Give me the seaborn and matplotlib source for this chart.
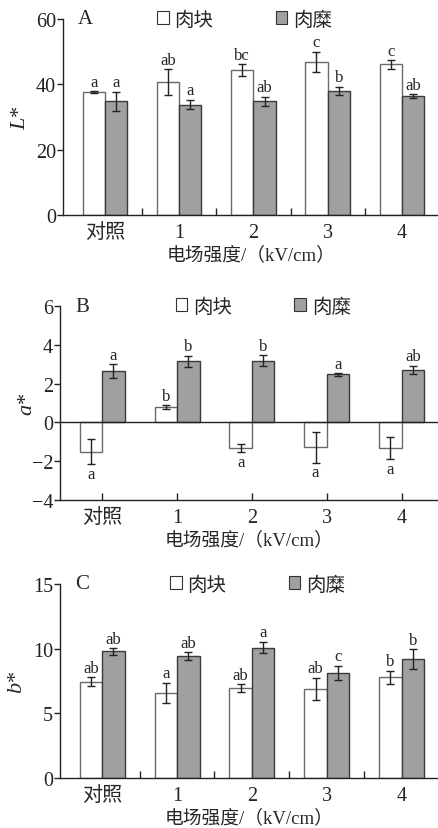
import numpy as np
import pandas as pd
import matplotlib
matplotlib.use('Agg')
import matplotlib.pyplot as plt
from matplotlib.patches import Patch
from matplotlib.ticker import FixedLocator
import seaborn as sns

# Data
groups = ['对照', '1', '2', '3', '4']
series = ['肉块', '肉糜']

L_chunk = [37.6, 40.6, 44.3, 46.9, 46.1]
L_chunk_err = [0.3, 4.0, 1.8, 3.0, 1.3]
L_mince = [34.8, 33.8, 34.8, 37.9, 36.3]
L_mince_err = [3.0, 1.5, 1.4, 1.3, 0.6]
L_chunk_sig = ['a', 'ab', 'bc', 'c', 'c']
L_mince_sig = ['a', 'a', 'ab', 'b', 'ab']

a_chunk = [-1.50, 0.79, -1.33, -1.28, -1.34]
a_chunk_err = [0.66, 0.09, 0.22, 0.80, 0.57]
a_mince = [2.64, 3.16, 3.19, 2.47, 2.72]
a_mince_err = [0.35, 0.28, 0.26, 0.07, 0.20]
a_chunk_sig = ['a', 'b', 'a', 'a', 'a']
a_mince_sig = ['a', 'b', 'b', 'a', 'ab']

b_chunk = [7.45, 6.60, 6.93, 6.88, 7.78]
b_chunk_err = [0.35, 0.77, 0.30, 0.85, 0.52]
b_mince = [9.79, 9.41, 10.08, 8.12, 9.20]
b_mince_err = [0.25, 0.32, 0.45, 0.57, 0.77]
b_chunk_sig = ['ab', 'a', 'ab', 'ab', 'b']
b_mince_sig = ['ab', 'ab', 'a', 'c', 'b']

sns.set_theme(style='ticks')
plt.rcParams['font.family'] = ['Liberation Serif', 'Noto Sans CJK SC']
plt.rcParams['mathtext.fontset'] = 'custom'
plt.rcParams['mathtext.it'] = 'Liberation Serif:italic'
plt.rcParams['mathtext.rm'] = 'Liberation Serif'
plt.rcParams['axes.unicode_minus'] = True

gray = '#a0a0a3'
palette = {'肉块': 'white', '肉糜': gray}
edges = {'肉块': '#6a6a6a', '肉糜': '#3a3a3a'}
mixed = ['Liberation Serif', 'Noto Sans CJK SC']

W, H = 439, 829
fig = plt.figure(figsize=(W / 100, H / 100), dpi=100)

panels = [
    dict(tag='A', ylabel='$L$*', vals=(L_chunk, L_mince), errs=(L_chunk_err, L_mince_err),
         sigs=(L_chunk_sig, L_mince_sig), ylim=(0, 60), yticks=[0, 20, 40, 60],
         rect=(63, 20, 216), leg_x=0.25, ylab_x=-0.088, boundary=True),
    dict(tag='B', ylabel='$a$*', vals=(a_chunk, a_mince), errs=(a_chunk_err, a_mince_err),
         sigs=(a_chunk_sig, a_mince_sig), ylim=(-4, 6), yticks=[-4, -2, 0, 2, 4, 6],
         rect=(60, 307, 501), leg_x=0.305, ylab_x=-0.062, boundary=False),
    dict(tag='C', ylabel='$b$*', vals=(b_chunk, b_mince), errs=(b_chunk_err, b_mince_err),
         sigs=(b_chunk_sig, b_mince_sig), ylim=(0, 15), yticks=[0, 5, 10, 15],
         rect=(60, 585, 779), leg_x=0.29, ylab_x=-0.087, boundary=True),
]

for p in panels:
    left, top, bottom = p['rect']
    ax = fig.add_axes([left / W, (H - bottom) / H, (W - left) / W, (bottom - top) / H])

    df = pd.DataFrame({
        'group': groups * 2,
        'type': [series[0]] * 5 + [series[1]] * 5,
        'value': list(p['vals'][0]) + list(p['vals'][1]),
        'err': list(p['errs'][0]) + list(p['errs'][1]),
        'sig': list(p['sigs'][0]) + list(p['sigs'][1]),
    })

    sns.barplot(data=df, x='group', y='value', hue='type', hue_order=series,
                order=groups, palette=palette, width=0.6, errorbar=None,
                legend=False, ax=ax, linewidth=1.0, saturation=1)

    span = p['ylim'][1] - p['ylim'][0]
    for container, s in zip(ax.containers, series):
        sub = df[df['type'] == s].set_index('group').loc[groups]
        for bar, (_, row) in zip(container.patches, sub.iterrows()):
            bar.set_edgecolor(edges[s])
            xc = bar.get_x() + bar.get_width() / 2
            ax.errorbar(xc, row['value'], yerr=row['err'], fmt='none',
                        ecolor='#222222', elinewidth=1.0, capsize=3, capthick=1.0, zorder=5)
            if row['value'] >= 0:
                ax.text(xc, row['value'] + row['err'] + 0.008 * span, row['sig'],
                        ha='center', va='bottom', fontsize=12)
            else:
                ax.text(xc, row['value'] - row['err'] - 0.008 * span, row['sig'],
                        ha='center', va='top', fontsize=12)

    ax.set_xlim(-0.564, 4.5)
    ax.set_ylim(*p['ylim'])
    ax.set_yticks(p['yticks'])
    ax.set_yticklabels([str(t).replace('-', '\u2212') for t in p['yticks']])
    sns.despine(ax=ax)
    for sp in ['left', 'bottom']:
        ax.spines[sp].set_linewidth(1.0)
        ax.spines[sp].set_color('#222222')

    ax.tick_params(axis='y', direction='out', length=4, width=1, labelsize=14.5,
                   colors='#222222', pad=1)
    if p['boundary']:
        ax.tick_params(axis='x', which='major', length=0, labelsize=14.5, pad=6)
        ax.xaxis.set_minor_locator(FixedLocator([0.5, 1.5, 2.5, 3.5]))
        ax.tick_params(axis='x', which='minor', direction='in', length=5, width=1,
                       color='#222222')
    else:
        ax.tick_params(axis='x', which='major', direction='in', length=5, width=1,
                       labelsize=14.5, pad=6, color='#222222')
        ax.axhline(0, color='#222222', lw=1.0, zorder=1)

    ax.set_xlabel('电场强度/（kV/cm）', fontsize=13.5, labelpad=2.5, family=mixed)
    ax.set_ylabel(p['ylabel'], fontsize=16)
    ax.yaxis.set_label_coords(p['ylab_x'], 0.5)
    for lab in ax.get_xticklabels():
        lab.set_family(mixed)

    ax.text(0.04, 1.0, p['tag'], transform=ax.transAxes, ha='left', va='center',
            fontsize=15)

    handles = [Patch(facecolor='white', edgecolor='#333333', lw=0.8),
               Patch(facecolor=gray, edgecolor='#333333', lw=0.8)]
    ax.legend(handles, series, ncol=2, frameon=False, loc='center left',
              bbox_to_anchor=(p['leg_x'], 1.0), handlelength=0.6, handleheight=0.6,
              handletextpad=0.3, columnspacing=3.2, borderaxespad=0, borderpad=0,
              prop={'family': 'Noto Sans CJK SC', 'size': 14})

fig.savefig('out.png', dpi=100)
